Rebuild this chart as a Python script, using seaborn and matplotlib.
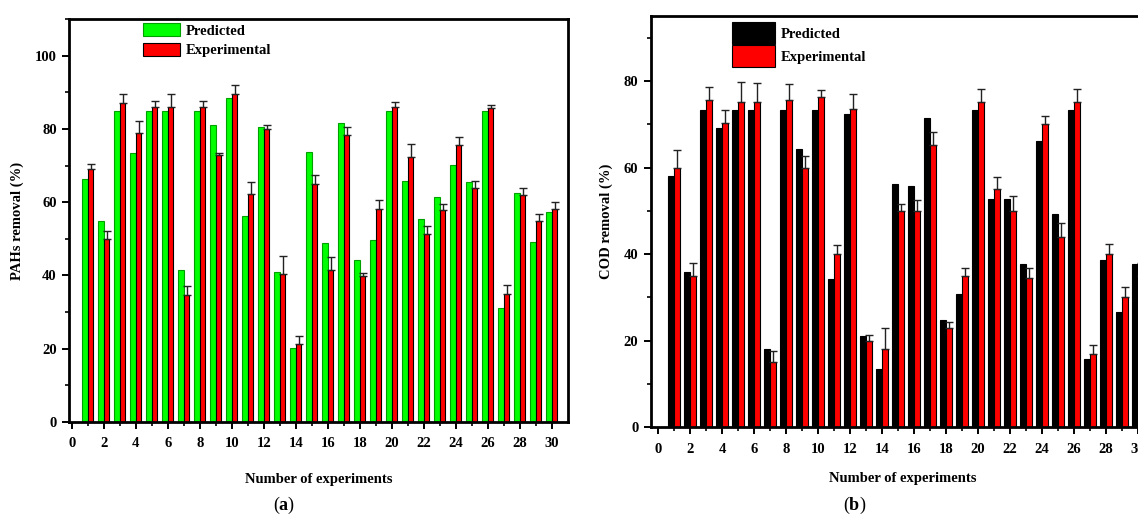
import numpy as np
import pandas as pd
import matplotlib
matplotlib.use("Agg")
import matplotlib.pyplot as plt
from matplotlib.patches import Patch
import seaborn as sns

# ---- data -------------------------------------------------------------
experiments = list(range(1, 31))

pahs_predicted = [66.2, 55.0, 84.8, 73.5, 84.8, 84.8, 41.5, 84.8, 81.0, 88.4,
                  56.1, 80.5, 41.0, 20.2, 73.8, 48.9, 81.7, 44.1, 49.7, 84.8,
                  65.9, 55.3, 61.5, 70.2, 65.5, 84.8, 31.2, 62.5, 49.0, 57.4]
pahs_experimental = [69.1, 50.0, 87.1, 79.0, 86.1, 85.9, 34.8, 85.9, 73.0, 89.5,
                     62.3, 79.9, 40.4, 21.2, 65.0, 41.5, 78.4, 39.9, 58.2, 85.9,
                     72.4, 51.2, 57.9, 75.5, 63.9, 85.7, 35.0, 62.0, 54.9, 58.2]
pahs_error = [1.3, 2.1, 2.4, 3.1, 1.5, 3.6, 2.2, 1.8, 0.5, 2.5,
              3.3, 1.3, 5.0, 2.3, 2.5, 3.5, 2.1, 0.8, 2.4, 1.5,
              3.4, 2.3, 1.6, 2.2, 1.9, 0.8, 2.4, 1.9, 2.0, 1.8]

cod_predicted = [58.0, 35.8, 73.2, 69.2, 73.2, 73.2, 18.0, 73.2, 64.2, 73.2,
                 34.2, 72.3, 21.1, 13.4, 56.3, 55.7, 71.5, 24.8, 30.9, 73.2,
                 52.8, 52.7, 37.7, 66.2, 49.3, 73.2, 15.8, 38.6, 26.6, 37.8]
cod_experimental = [60.0, 35.0, 75.5, 70.2, 75.2, 75.1, 15.0, 75.5, 60.0, 76.4,
                    40.0, 73.5, 20.0, 18.0, 50.0, 50.0, 65.1, 23.0, 35.0, 75.1,
                    55.0, 50.0, 34.5, 70.1, 44.0, 75.1, 17.0, 40.0, 30.0, 35.0]
cod_error = [4.0, 2.9, 3.2, 3.2, 4.6, 4.5, 2.6, 3.7, 2.7, 1.6,
             2.0, 3.5, 1.4, 4.9, 1.5, 2.5, 3.2, 1.3, 1.8, 3.1,
             2.9, 3.5, 2.2, 1.7, 3.1, 3.1, 1.9, 2.3, 2.3, 3.0]

series_names = ["Predicted", "Experimental"]
x_ticks = list(range(0, 31, 2))

# ---- style ------------------------------------------------------------
sns.set_theme(style="ticks")
plt.rcParams["font.family"] = ["Liberation Serif", "DejaVu Serif"]
plt.rcParams["font.weight"] = "bold"
plt.rcParams["text.color"] = "black"
plt.rcParams["axes.labelcolor"] = "black"
plt.rcParams["xtick.color"] = "black"
plt.rcParams["ytick.color"] = "black"
plt.rcParams["mathtext.fontset"] = "custom"
plt.rcParams["mathtext.rm"] = "Liberation Serif"
plt.rcParams["mathtext.bf"] = "Liberation Serif:bold"

W, H = 1138, 522
fig = plt.figure(figsize=(W / 100, H / 100), dpi=100)


def long_frame(pred, expt):
    return pd.DataFrame({
        "experiment": experiments * 2,
        "removal": list(pred) + list(expt),
        "series": [series_names[0]] * len(pred) + [series_names[1]] * len(expt),
    })


def panel(rect, pred, expt, err, pred_color, pred_edge, ylabel, ylim,
          yticks, xlim, xlabelpad, leg_anchor, handlelength, handleheight,
          labelspacing):
    ax = fig.add_axes(rect)
    df = long_frame(pred, expt)
    sns.barplot(data=df, x="experiment", y="removal", hue="series",
                hue_order=series_names, native_scale=True, width=0.7,
                palette={series_names[0]: pred_color, series_names[1]: "#ff0000"},
                errorbar=None, legend=False, ax=ax, saturation=1)
    edges = [pred_edge, "#000000"]
    for cont, ec in zip(ax.containers, edges):
        for bar in cont:
            bar.set_edgecolor(ec)
            bar.set_linewidth(0.8)
    # upper error bars on the experimental series
    xs = np.array(experiments, dtype=float) + 0.175
    ax.errorbar(xs, expt, yerr=[np.zeros(len(err)), err], fmt="none",
                ecolor="#222222", elinewidth=1.0, capsize=3, capthick=1.0,
                zorder=5)

    ax.set_xlim(*xlim)
    ax.set_ylim(*ylim)
    ax.set_xticks(x_ticks)
    ax.set_xticklabels([str(t) for t in x_ticks])
    ax.set_xticks(list(range(1, 31, 2)), minor=True)
    ax.set_yticks(yticks)
    ax.set_yticks(list(range(0, int(ylim[1]) + 1, 10)), minor=True)
    ax.tick_params(axis="both", which="major", direction="out", length=5,
                   width=1.4, labelsize=10.5, pad=4, color="black",
                   labelcolor="black")
    ax.tick_params(axis="both", which="minor", direction="out", length=3,
                   width=1.2, color="black")
    ax.tick_params(axis="x", which="major", pad=6)
    for lab in ax.get_xticklabels() + ax.get_yticklabels():
        lab.set_fontweight("bold")
    for sp in ax.spines.values():
        sp.set_visible(True)
        sp.set_linewidth(2.0)
        sp.set_color("black")
    ax.set_xlabel("Number of experiments", fontsize=10.5, fontweight="bold",
                  labelpad=xlabelpad, color="black")
    ax.set_ylabel(ylabel, fontsize=10.5, fontweight="bold", labelpad=8,
                  color="black")

    handles = [Patch(facecolor=pred_color, edgecolor=pred_edge, linewidth=0.8),
               Patch(facecolor="#ff0000", edgecolor="#000000", linewidth=0.8)]
    ax.legend(handles, series_names, loc="upper left", bbox_to_anchor=leg_anchor,
              frameon=False, borderpad=0, borderaxespad=0,
              handlelength=handlelength, handleheight=handleheight,
              labelspacing=labelspacing, handletextpad=0.4, labelcolor="black",
              prop={"family": "Liberation Serif", "weight": "bold", "size": 10.5})
    return ax


# left panel: PAHs removal
panel([69.3 / W, 100 / H, 498.4 / W, 403 / H],
      pahs_predicted, pahs_experimental, pahs_error,
      "#00ff00", "#00a000", "PAHs removal (%)", (0, 110),
      [0, 20, 40, 60, 80, 100], (-0.15, 31.0), 16,
      (0.148, 0.99), 2.5, 1.0, 0.35)

# right panel: COD removal
panel([651 / W, 94.7 / H, 503 / W, 411.3 / H],
      cod_predicted, cod_experimental, cod_error,
      "#000000", "#000000", "COD removal (%)", (0, 95),
      [0, 20, 40, 60, 80], (-0.44, 31.0), 12,
      (0.161, 0.985), 2.95, 1.9, 0.1)

fig.text(284 / W, 1 - 505 / H, r"($\mathbf{a}$)", ha="center", va="center",
         fontsize=13, fontweight="normal")
fig.text(855 / W, 1 - 505 / H, r"($\mathbf{b}$)", ha="center", va="center",
         fontsize=13, fontweight="normal")

fig.savefig("out.png", dpi=100)
